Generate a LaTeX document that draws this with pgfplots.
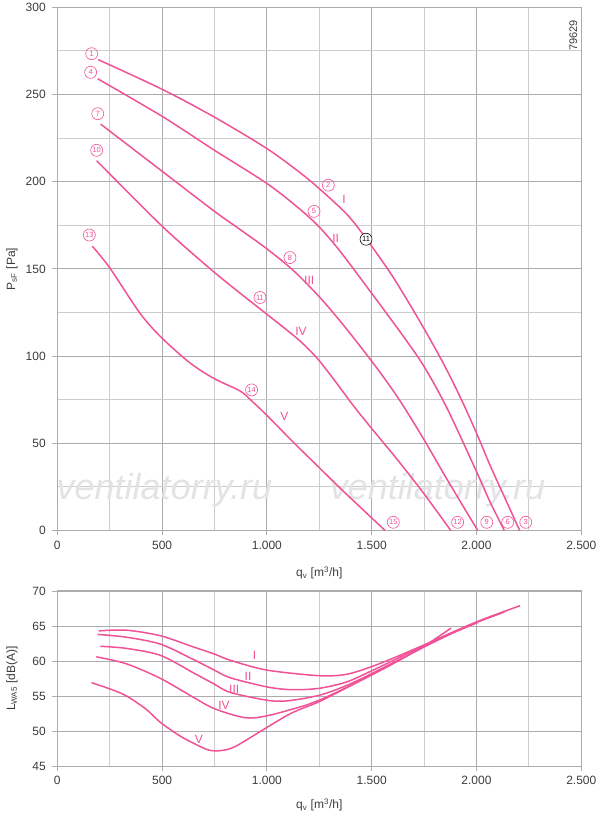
\documentclass[border=0pt]{standalone}
\usepackage{fontspec}
\setmainfont{Liberation Sans}
\usepackage{pgfplots}
\pgfplotsset{compat=1.18}
\definecolor{curvec}{RGB}{240,82,150}
\definecolor{tickc}{RGB}{60,60,60}
\definecolor{gridmaj}{RGB}{172,172,172}
\definecolor{gridmin}{RGB}{205,205,205}
\pgfplotsset{
 common/.style={
  scale only axis, width=524pt, xmin=0, xmax=2500,
  xtick={0,500,...,2500}, minor xtick={250,750,...,2250},
  grid=both,
  major grid style={draw=gridmaj, line width=0.9pt},
  minor grid style={draw=gridmin, line width=0.9pt},
  axis line style={draw=gridmaj, line width=1pt},
  tick style={draw=gridmaj, line width=0.9pt},
  tick align=outside, major tick length=5pt, minor tick length=0pt,
  xtick pos=bottom, ytick pos=left,
  ticklabel style={font=\fontsize{12}{14}\selectfont, text=tickc},
  xticklabel style={yshift=-2pt},
  yticklabel style={xshift=-3pt},
  scaled x ticks=false,
  /pgf/number format/1000 sep={.},
  /pgf/number format/assume math mode=true,
  clip=false,
 },
 crv/.style={draw=curvec, line width=1.5pt, smooth, no markers},
}
\tikzset{
 cnum/.style={circle, draw=curvec, text=curvec, line width=0.6pt, inner sep=0pt, minimum size=12pt, font=\fontsize{7.5}{8}\selectfont},
 rlab/.style={text=curvec, font=\fontsize{12}{14}\selectfont},
}
\begin{document}
\begin{tikzpicture}
\useasboundingbox (0,0) rectangle (600pt,820pt);
% ---------------- top: pressure ----------------
\begin{axis}[common, at={(57.3pt,289.5pt)}, anchor=south west, height=523.2pt,
  ymin=0, ymax=300, ytick={0,50,...,300}, minor ytick={25,75,...,275}]
\node[font=\fontsize{36}{40}\selectfont\itshape, text=gray!22] at (axis cs:511,23.2) {ventilatorry.ru};
\node[font=\fontsize{36}{40}\selectfont\itshape, text=gray!22] at (axis cs:1814,23.2) {ventilatorry.ru};
% I
\addplot[crv] coordinates {(195,270) (500,253) (750,237) (1000,219) (1160,205) (1250,196) (1380,181.5) (1470,168) (1590,147.5) (1670,132) (1758,114) (1850,94) (1932,74) (2003,55) (2066,37) (2138,18) (2206,0)};
% II
\addplot[crv] coordinates {(193,259) (500,237.5) (750,218) (1000,199) (1150,185) (1250,174) (1350,160) (1500,136) (1647,112) (1750,94) (1860,70) (2003,33) (2066,16) (2133,0)};
% III
\addplot[crv] coordinates {(207,233) (500,206) (750,183) (873,172.5) (1000,161.5) (1127,149) (1250,134) (1350,120) (1446,105.5) (1544,90) (1637,74) (1750,52) (1861,29) (2006,0)};
% IV
\addplot[crv] coordinates {(188,212) (500,174.5) (730,150) (873,136) (1000,124) (1150,109.5) (1238,99) (1317,87) (1413,71.5) (1500,58.5) (1630,39.5) (1750,21) (1877,0)};
% V
\addplot[crv] coordinates {(167,163) (248,151) (395,124.5) (498,110.5) (634,96) (750,87) (872,80) (930,74) (1000,66) (1127,50.5) (1250,36) (1365,22.5) (1564,0)};
% circled numbers
\node[cnum] at (axis cs:164,273.4) {1};
\node[cnum] at (axis cs:159,262.7) {4};
\node[cnum] at (axis cs:193,239) {7};
\node[cnum] at (axis cs:188,218) {10};
\node[cnum] at (axis cs:153,169.4) {13};
\node[cnum] at (axis cs:1293,198) {2};
\node[cnum] at (axis cs:1225,183) {5};
\node[cnum] at (axis cs:1110,156.5) {8};
\node[cnum] at (axis cs:967,133.6) {11};
\node[cnum] at (axis cs:927,80.6) {14};
\node[cnum] at (axis cs:2235,4.7) {3};
\node[cnum] at (axis cs:2149,4.7) {6};
\node[cnum] at (axis cs:2049,4.7) {9};
\node[cnum] at (axis cs:1910,4.7) {12};
\node[cnum] at (axis cs:1603,4.7) {15};
\node[cnum, draw=black, text=black, fill=white] at (axis cs:1473,167) {11};
% roman labels
\node[rlab] at (axis cs:1368,189.6) {I};
\node[rlab] at (axis cs:1328,167.6) {II};
\node[rlab] at (axis cs:1202,143.3) {III};
\node[rlab] at (axis cs:1163,114) {IV};
\node[rlab] at (axis cs:1083,65.7) {V};
\node[rotate=90, text=tickc, font=\fontsize{11}{13}\selectfont] at (axis cs:2462,284) {79629};
\end{axis}
% ---------------- bottom: sound ----------------
\begin{axis}[common, at={(57.3pt,54pt)}, anchor=south west, height=175pt,
  ymin=45, ymax=70, ytick={45,50,...,70}]
% I
\addplot[crv] coordinates {(197,64.3) (330,64.4) (493,63.6) (650,62.0) (749,61.0) (826,60.1) (1000,58.7) (1250,57.9) (1380,58.1) (1500,59.2) (1618,60.6) (1750,62.3) (2001,65.6) (2208,67.9)};
% II
\addplot[crv] coordinates {(192,63.8) (330,63.4) (493,62.4) (650,60.2) (749,58.7) (826,57.6) (1000,56.3) (1120,55.9) (1250,56.1) (1380,57.0) (1500,58.6) (1618,60.3) (1750,62.2) (1880,64.0) (2000,65.5) (2133,67.0)};
% III
\addplot[crv] coordinates {(205,62.1) (330,61.8) (493,60.8) (650,58.3) (749,56.7) (826,55.5) (1000,54.4) (1095,54.3) (1250,55.1) (1380,56.5) (1500,58.2) (1618,60.0) (1750,62.0) (1880,63.9) (2006,65.5)};
% IV
\addplot[crv] coordinates {(186,60.6) (330,59.6) (493,57.5) (650,54.8) (749,53.2) (895,51.9) (1005,52.2) (1188,53.7) (1250,54.4) (1380,56.2) (1500,58.0) (1626,60.0) (1749,62.1) (1879,64.7)};
% V
\addplot[crv] coordinates {(164,56.9) (311,55.3) (420,53.2) (493,51.2) (580,49.4) (640,48.4) (720,47.3) (780,47.2) (850,47.8) (1005,50.6) (1120,52.6) (1250,54.2) (1400,56.5) (1568,59.2)};
\node[rlab] at (axis cs:941,60.8) {I};
\node[rlab] at (axis cs:910,57.8) {II};
\node[rlab] at (axis cs:844,56.0) {III};
\node[rlab] at (axis cs:795,53.7) {IV};
\node[rlab] at (axis cs:676,48.8) {V};
\end{axis}
% axis labels
\node[text=tickc, font=\fontsize{12}{14}\selectfont] at (319.3pt,247pt) {q\textsubscript{v} [m\textsuperscript{3}/h]};
\node[text=tickc, font=\fontsize{12}{14}\selectfont] at (319.3pt,15pt) {q\textsubscript{v} [m\textsuperscript{3}/h]};
\node[rotate=90, text=tickc, font=\fontsize{12}{14}\selectfont] at (12pt,551pt) {P\textsubscript{sF} [Pa]};
\node[rotate=90, text=tickc, font=\fontsize{12}{14}\selectfont] at (12pt,141.5pt) {L\textsubscript{WA5} [dB(A)]};
\end{tikzpicture}
\end{document}
